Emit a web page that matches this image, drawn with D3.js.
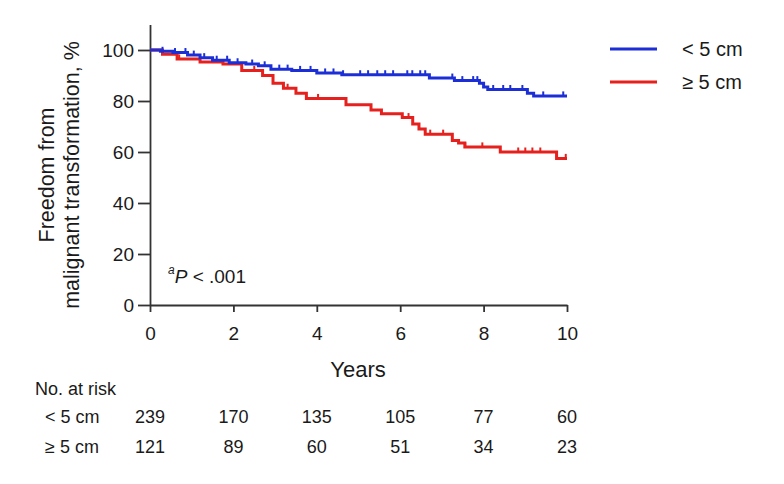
<!DOCTYPE html>
<html>
<head>
<meta charset="utf-8">
<script src="https://cdn.jsdelivr.net/npm/d3@7"></script>
<style>
  html, body { margin: 0; padding: 0; background: #fff; }
  svg { display: block; font-family: "Liberation Sans", Arial, Helvetica, sans-serif; }
</style>
</head>
<body>
<svg width="784" height="484"></svg>
<script>
// ================= DATA ===================
const groups = ["< 5 cm", "≥ 5 cm"];
const colors = ["#1c2fd6", "#e5201d"];

// step points (time in years, % free from transformation)
const smallTimes = [0, 0.25, 0.55, 0.9, 1.2, 1.5, 1.9, 2.3, 2.6, 2.9, 3.4, 4.0, 4.6, 6.7, 7.3, 7.9, 8.0, 8.1, 9.05, 9.2];
const smallValues = [100, 99.5, 99, 98, 97, 96, 95, 94.5, 93.8, 92.5, 92, 91, 90.3, 89, 88, 87, 85.5, 84.5, 83, 82];
const smallCensored = [0.3, 0.6, 0.85, 1.05, 1.3, 1.6, 1.85, 2.1, 2.45, 2.75, 3.1, 3.3, 3.6, 3.85, 4.2, 4.4,
  4.63, 5.04, 5.23, 5.45, 5.64, 5.83, 6.17, 6.29, 6.48, 6.6, 7.25, 7.49, 7.75, 7.85, 8.23, 8.47, 8.64, 8.93, 9.43, 9.91];

const largeTimes = [0, 0.3, 0.65, 1.2, 1.75, 2.2, 2.7, 2.95, 3.2, 3.5, 3.75, 4.7, 5.3, 5.55, 6.05, 6.3, 6.45, 6.6, 7.25, 7.4, 7.55, 8.4, 9.75];
const largeValues = [100, 98.3, 96.5, 95.3, 94.5, 92, 90, 87, 85, 83, 81, 78.5, 76.5, 75, 73.5, 71, 69, 67, 64.5, 63.5, 62, 60, 57.5];
const largeCensored = [0.7, 1.5, 2.5, 3.3, 4.03, 5.3, 6.2, 6.72, 7.03, 7.56, 7.97, 8.83, 9.0, 9.17, 9.36, 9.97];

// number at risk table
const riskYears = [0, 2, 4, 6, 8, 10];
const riskSmall = [239, 170, 135, 105, 77, 60];
const riskLarge = [121, 89, 60, 51, 34, 23];

const xTicks = [0, 2, 4, 6, 8, 10];
const yTicks = [0, 20, 40, 60, 80, 100];

// ================= SETUP ===================
const svg = d3.select("svg");
const textColor = "#1a1a1a";

const x = d3.scaleLinear().domain([0, 10]).range([150, 567]);
const y = d3.scaleLinear().domain([0, 110]).range([305, 24.5]);

// ================= AXES ===================
const xAxis = svg.append("g")
  .attr("transform", `translate(0,${y(0)})`)
  .call(d3.axisBottom(x).tickValues(xTicks).tickSize(7).tickSizeOuter(0).tickPadding(15).tickFormat(d3.format("d")));

const yAxis = svg.append("g")
  .attr("transform", `translate(${x(0)},0)`)
  .call(d3.axisLeft(y).tickValues(yTicks).tickSize(12).tickSizeOuter(0).tickPadding(4).tickFormat(d3.format("d")));

[xAxis, yAxis].forEach((a) => {
  a.selectAll("path, line").attr("stroke", "#333").attr("stroke-width", 1.8);
  a.selectAll("text").attr("fill", textColor).attr("font-size", 19);
});

// axis titles
svg.append("text")
  .attr("x", 358).attr("y", 377)
  .attr("text-anchor", "middle")
  .attr("font-size", 22).attr("fill", textColor)
  .text("Years");

const yTitle = svg.append("text")
  .attr("transform", "rotate(-90)")
  .attr("text-anchor", "middle")
  .attr("font-size", 21.5).attr("fill", textColor);
yTitle.append("tspan").attr("x", -175).attr("y", 54).text("Freedom from");
yTitle.append("tspan").attr("x", -175).attr("y", 79).text("malignant transformation, %");

// P value
const pText = svg.append("text")
  .attr("x", 168).attr("y", 283)
  .attr("font-size", 19).attr("fill", textColor);
pText.append("tspan").attr("font-size", 12).attr("font-style", "italic").attr("dy", -9).text("a");
pText.append("tspan").attr("font-style", "italic").attr("dy", 9).text("P");
pText.append("tspan").text(" < .001");

// ================= CURVES ===================
const series = [
  { times: largeTimes, values: largeValues, censored: largeCensored, color: colors[1] },
  { times: smallTimes, values: smallValues, censored: smallCensored, color: colors[0] },
];

const line = d3.line()
  .x((d) => x(d[0]))
  .y((d) => y(d[1]))
  .curve(d3.curveStepAfter);

series.forEach((s) => {
  const pts = s.times.map((t, i) => [t, s.values[i]]);
  pts.push([10, s.values[s.values.length - 1]]);

  svg.append("path")
    .attr("d", line(pts))
    .attr("fill", "none")
    .attr("stroke", s.color)
    .attr("stroke-width", 3);

  // censor marks
  svg.append("g")
    .selectAll("line")
    .data(s.censored)
    .join("line")
    .attr("x1", (t) => x(t))
    .attr("x2", (t) => x(t))
    .attr("y1", (t) => y(s.values[d3.bisectRight(s.times, t) - 1]))
    .attr("y2", (t) => y(s.values[d3.bisectRight(s.times, t) - 1]) - 4.5)
    .attr("stroke", s.color)
    .attr("stroke-width", 2);
});

// ================= LEGEND ===================
const legend = svg.append("g");
groups.forEach((g, i) => {
  const ly = 49 + i * 33;
  legend.append("line")
    .attr("x1", 610).attr("x2", 657)
    .attr("y1", ly).attr("y2", ly)
    .attr("stroke", colors[i]).attr("stroke-width", 3);
  legend.append("text")
    .attr("x", 682).attr("y", ly)
    .attr("dy", "0.35em")
    .attr("font-size", 20).attr("fill", textColor)
    .text(g);
});

// ================= NUMBER AT RISK ===================
svg.append("text")
  .attr("x", 35).attr("y", 395)
  .attr("font-size", 18).attr("fill", textColor)
  .text("No. at risk");

[riskSmall, riskLarge].forEach((row, i) => {
  const ry = 423 + i * 30;
  svg.append("text")
    .attr("x", 45).attr("y", ry)
    .attr("font-size", 18).attr("fill", textColor)
    .text(groups[i]);
  svg.append("g")
    .selectAll("text")
    .data(row)
    .join("text")
    .attr("x", (d, j) => x(riskYears[j]))
    .attr("y", ry)
    .attr("text-anchor", "middle")
    .attr("font-size", 18).attr("fill", textColor)
    .text((d) => d);
});
</script>
</body>
</html>
